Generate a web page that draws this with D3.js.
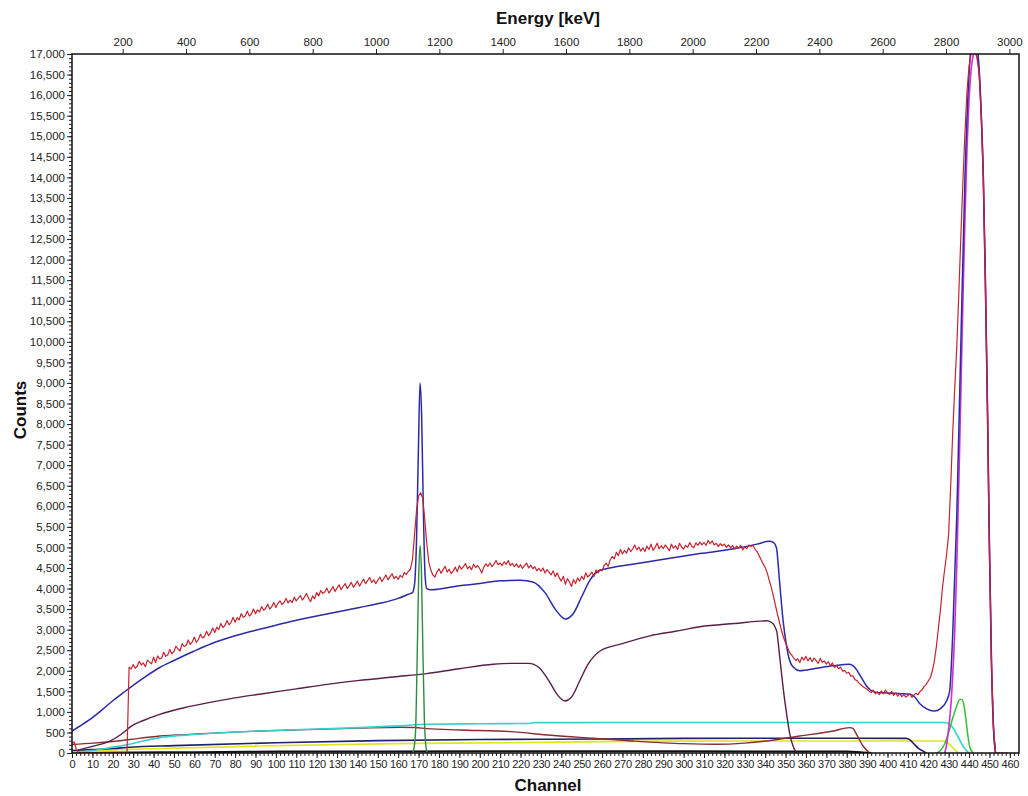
<!DOCTYPE html>
<html><head><meta charset="utf-8">
<script src="https://cdn.jsdelivr.net/npm/d3@7"></script>
<style>
body{margin:0;background:#fff;}
svg text{font-family:"Liberation Sans",Arial,sans-serif;}
</style></head><body>
<svg id="chart" width="1028" height="796"></svg>
<script>
// Gamma spectrum: measured counts per channel plus fitted components.

// Measured counts, one value per channel starting at channel 0.
const measured = [
  240, 270, 110, 20, 10, 10, 10, 10, 10, 10,
  10, 10, 10, 10, 10, 10, 10, 10, 10, 10,
  10, 10, 10, 10, 10, 10, 10, 10, 2090, 2040,
  2150, 2060, 2110, 2230, 2140, 2190, 2100, 2260, 2210, 2170,
  2330, 2200, 2360, 2290, 2310, 2450, 2350, 2390, 2520, 2410,
  2470, 2600, 2530, 2480, 2660, 2590, 2620, 2750, 2640, 2700,
  2820, 2690, 2760, 2890, 2800, 2830, 2960, 2850, 2920, 3040,
  2930, 3060, 3000, 3150, 3050, 3100, 3220, 3120, 3170, 3300,
  3180, 3290, 3240, 3390, 3300, 3330, 3450, 3330, 3380, 3500,
  3390, 3480, 3430, 3560, 3470, 3520, 3620, 3500, 3560, 3660,
  3540, 3640, 3700, 3610, 3660, 3760, 3650, 3720, 3660, 3790,
  3700, 3760, 3830, 3720, 3790, 3880, 3770, 3680, 3820, 3750,
  3900, 3820, 3950, 3880, 3920, 4010, 3890, 3960, 4050, 3930,
  4010, 4090, 3970, 4050, 4120, 4000, 4070, 4150, 4030, 4100,
  4180, 4060, 4140, 4230, 4120, 4190, 4270, 4150, 4210, 4120,
  4200, 4280, 4170, 4250, 4330, 4210, 4290, 4360, 4240, 4300,
  4220, 4320, 4270, 4390, 4340, 4420, 4470, 4700, 5300, 5900,
  6250, 6330, 6200, 5700, 5100, 4650, 4450, 4330, 4280, 4400,
  4480, 4370, 4460, 4540, 4400, 4470, 4360, 4430, 4520, 4410,
  4560, 4470, 4530, 4610, 4480, 4540, 4460, 4590, 4510, 4560,
  4480, 4380, 4520, 4600, 4540, 4620, 4530, 4600, 4680, 4580,
  4620, 4560, 4650, 4590, 4680, 4560, 4610, 4530, 4600, 4510,
  4580, 4490, 4560, 4620, 4500, 4570, 4480, 4530, 4430, 4490,
  4420, 4500, 4380, 4460, 4400, 4330, 4430, 4290, 4380, 4260,
  4180, 4300, 4100, 4240, 4160, 4050, 4220, 4120, 4260, 4180,
  4300, 4220, 4380, 4280, 4330, 4400, 4290, 4450, 4380, 4460,
  4430, 4560, 4620, 4540, 4700, 4780, 4720, 4880, 4800, 4950,
  4840, 4930, 4860, 4990, 4900, 4960, 5060, 4940, 5010, 4910,
  4990, 4900, 5030, 4950, 5080, 4930, 5000, 5100, 4960, 5040,
  4970, 5060, 4990, 4920, 5080, 4980, 5040, 4950, 5100, 5010,
  4960, 5050, 5000, 5120, 5030, 4990, 5110, 5050, 5130, 5060,
  5120, 5050, 5170, 5090, 5160, 5060, 5100, 5020, 5090, 5040,
  5080, 5000, 5060, 4990, 5050, 4960, 5030, 4980, 5050, 4940,
  5010, 4970, 5060, 5020, 5050, 4960, 4900, 4800, 4700, 4600,
  4510, 4380, 4200, 4030, 3820, 3600, 3380, 3180, 2980, 2810,
  2680, 2560, 2440, 2380, 2310, 2250, 2290, 2200, 2330, 2260,
  2350, 2240, 2320, 2220, 2310, 2250, 2180, 2300, 2200, 2240,
  2160, 2220, 2120, 2190, 2080, 2130, 2050, 2090, 1990, 2010,
  1940, 1960, 1870, 1880, 1790, 1760, 1700, 1660, 1610, 1580,
  1550, 1500, 1470, 1530, 1440, 1490, 1420, 1510, 1440, 1530,
  1470, 1420, 1500, 1400, 1460, 1380, 1450, 1370, 1420, 1360,
  1400, 1440, 1350, 1410, 1450, 1420, 1500, 1540, 1620, 1670,
  1750, 1830, 2000, 2240, 2600, 3050, 3500, 4030, 4450, 4840,
  5330, 6500, 7800, 8900, 9900, 11200, 12600, 13900, 15100, 16100,
  16700, 17000, 17050, 17050, 16900, 16500, 15500, 14000, 11500, 8500,
  5000, 2200, 600, 0, 0, 0, 0, 0, 0, 0
];

// Fitted curves as [channel, counts] pairs.
const totalFit = [
  [0,535],[5,690],[10,860],[15,1060],[20,1270],[25,1460],[29,1610],[35,1820],[43,2080],
  [50,2250],[60,2480],[68,2650],[80,2850],[92,3010],[105,3170],[117,3300],[130,3430],
  [141,3540],[151,3640],[160,3760],[165,3860],[167,3900],[168,4100],[169,5200],[170,7600],
  [170.7,9000],[171.5,8200],[172.3,6000],[173.2,4300],[174,4000],[176,3970],[190,4070],
  [200,4120],[210,4190],[220,4200],[226,4160],[232,3900],[237,3500],[242,3260],[246,3400],
  [250,3800],[254,4200],[258,4420],[262,4480],[275,4590],[291,4720],[308,4850],[324,4960],
  [336,5080],[342,5150],[344,5120],[345.5,5000],[347,4200],[348.8,3215],[350.5,2600],
  [352,2250],[354,2080],[357,2000],[365,2060],[373,2120],[381.5,2160],[384,2080],[387,1850],
  [389.7,1630],[392,1520],[394.6,1470],[400,1460],[411,1430],[413,1380],[416,1190],[419,1080],
  [423,1020],[426,1080],[429,1270],[430.5,1510],[432,2900],[434,5800],[436,10000],[438,14000],
  [440,16500],[441,17200],[442,17500],[443,17500],[444,17200],[445,16600],[446,15500],
  [447,14000],[448,11500],[449,8500],[450,5000],[451,2200],[452,600],[453,0]
];
const comptonFit = [
  [3,70],[10,160],[18.6,290],[24,450],[29.3,660],[35,790],[43,940],[55,1100],[67.7,1230],
  [80,1340],[92,1430],[110,1560],[125,1670],[140,1760],[157.6,1850],[174,1930],[190,2050],
  [206.6,2160],[215,2180],[224,2180],[229,2080],[234,1750],[238,1420],[241.8,1265],[245,1360],
  [249,1750],[253,2150],[256,2350],[259,2480],[270,2660],[283.5,2850],[296,2960],[308,3070],
  [325,3150],[340.7,3215],[343,3180],[345.6,2970],[347,2400],[348.8,1590],[350.5,950],
  [352.1,455],[353.8,150],[355.4,0]
];
const peak1Fit = [
  [165,0],[167,10],[167.5,60],[168.5,500],[169.3,2300],[170,4200],[170.7,5050],[171.4,4400],
  [172.1,2500],[172.8,900],[173.5,200],[174.2,30],[175,0]
];
const peak2Fit = [
  [428,0],[429,200],[430,600],[431,1100],[432,1900],[433,3000],[434,4600],[435,6600],
  [436,8800],[437,11000],[438,13000],[439,14700],[440,15900],[441,16600],[442,16950],
  [443,17050],[444,16900],[445,16500],[446,15500],[447,14000],[448,11500],[449,8500],
  [450,5000],[451,2200],[452,600],[453,0]
];
const escapeFit = [
  [424,0],[426,60],[428,220],[430,500],[432,850],[434,1150],[435.5,1300],[436.5,1300],
  [437.5,1150],[438.5,800],[439.5,400],[440.5,120],[442,0]
];
const cyanBg = [
  [0,0],[10,60],[18.6,130],[29.3,227],[43,373],[60,450],[92,536],[120,585],[141,617],
  [160,660],[174,698],[200,710],[215,715],[224,718],[227,738],[260,740],[428,740],
  [430,720],[432,620],[434,450],[436,260],[438,100],[440,0]
];
const brownBg = [
  [0,210],[10.5,240],[20,280],[28.4,330],[43,414],[60,460],[92,536],[120,575],[141,605],
  [160.8,625],[168,620],[174,592],[190,560],[215,520],[235,430],[255.7,358],[275,292],
  [300,227],[316,211],[330,240],[340.7,292],[357,414],[373.4,536],[381.5,617],[383,600],
  [384.8,455],[388,170],[391.3,0]
];
const navyBg = [
  [0,60],[10,85],[20,110],[28,140],[50,180],[100,250],[150,300],[200,330],[260,340],
  [300,355],[380,360],[409,355],[411,320],[413,220],[415,120],[417.5,45],[419,0]
];
const yellowBg = [
  [0,40],[15,70],[29,90],[92,170],[157.6,227],[215,251],[259,276],[300,290],[427,292],
  [430,230],[433,80],[435,0]
];
const blackBg = [
  [0,0],[28,10],[60,20],[110,35],[200,40],[300,40],[380,35],[388,15],[392,0]
];

// Axis tick values and energy calibration.
const channelTicks = d3.range(0, 461, 10);
const channelMinor = d3.range(0, 465, 2);
const countTicks = d3.range(0, 17001, 500);
const countMinor = d3.range(0, 17001, 100);
const energyTicks = d3.range(200, 3001, 200);
const energyOffset = 40;      // keV at channel 0
const keVPerChannel = 6.438;  // calibration slope

const svg = d3.select("#chart");
const margin = {left: 72, right: 9, top: 54, bottom: 43};
const W = 1028, H = 796;
const chMax = 464.5;

const x = d3.scaleLinear().domain([0, chMax]).range([margin.left, W - margin.right]);
const y = d3.scaleLinear().domain([0, 17000]).range([H - margin.bottom, margin.top]);
const xE = d3.scaleLinear()
  .domain([energyOffset, energyOffset + chMax * keVPerChannel])
  .range([margin.left, W - margin.right]);

svg.append("defs").append("clipPath").attr("id", "plotClip")
  .append("rect").attr("x", x(0)).attr("y", y(17000))
  .attr("width", x(chMax) - x(0)).attr("height", y(0) - y(17000));

const fmt = d3.format(",");
function styleAxis(size) {
  return g => {
    g.select(".domain").remove();
    g.selectAll("text").attr("font-size", size).attr("fill", "#222");
    g.selectAll("line").attr("stroke", "#222");
  };
}

// minor ticks
svg.append("g").attr("transform", `translate(0,${y(0)})`)
  .call(d3.axisBottom(x).tickValues(channelMinor).tickSize(3).tickFormat(""))
  .call(styleAxis(11));
svg.append("g").attr("transform", `translate(${x(0)},0)`)
  .call(d3.axisLeft(y).tickValues(countMinor).tickSize(3).tickFormat(""))
  .call(styleAxis(12));

// major ticks
svg.append("g").attr("transform", `translate(0,${y(0)})`)
  .call(d3.axisBottom(x).tickValues(channelTicks).tickSize(5).tickPadding(2).tickFormat(d3.format("d")))
  .call(styleAxis(11))
  .call(g => g.selectAll("text").attr("letter-spacing", -0.3));
svg.append("g").attr("transform", `translate(${x(0)},0)`)
  .call(d3.axisLeft(y).tickValues(countTicks).tickSize(5).tickPadding(2).tickFormat(fmt))
  .call(styleAxis(11.5));
svg.append("g").attr("transform", `translate(0,${y(17000)})`)
  .call(d3.axisTop(xE).tickValues(energyTicks).tickSize(5).tickPadding(3).tickFormat(d3.format("d")))
  .call(styleAxis(11.5));

// series
const line = d3.line().x(d => x(d[0])).y(d => y(d[1]));
const smooth = d3.line().x(d => x(d[0])).y(d => y(d[1])).curve(d3.curveMonotoneX);
const plot = svg.append("g").attr("clip-path", "url(#plotClip)");

const series = [
  {data: blackBg, color: "#111111", w: 2},
  {data: yellowBg, color: "#e4e41a", w: 1.6},
  {data: navyBg, color: "#20206e", w: 1.6},
  {data: brownBg, color: "#8a2c30", w: 1.4},
  {data: cyanBg, color: "#30d2d2", w: 1.6},
  {data: comptonFit, color: "#5a1e48", w: 1.4},
  {data: peak1Fit, color: "#2e8a3c", w: 1.4},
  {data: escapeFit, color: "#33c033", w: 1.5},
  {data: peak2Fit, color: "#d030d0", w: 1.6},
  {data: totalFit, color: "#2a2aa8", w: 1.5}
];
series.forEach(s => {
  plot.append("path").attr("d", smooth(s.data))
    .attr("fill", "none").attr("stroke", s.color).attr("stroke-width", s.w)
    .attr("stroke-linejoin", "round");
});
plot.append("path").attr("d", line(measured.map((v, i) => [i, v])))
  .attr("fill", "none").attr("stroke", "#c42530").attr("stroke-width", 1.2)
  .attr("stroke-linejoin", "round");

// frame
svg.append("rect").attr("x", x(0)).attr("y", y(17000))
  .attr("width", x(chMax) - x(0)).attr("height", y(0) - y(17000))
  .attr("fill", "none").attr("stroke", "#111").attr("stroke-width", 1.5);

// titles
svg.append("text").attr("x", 548).attr("y", 24).attr("text-anchor", "middle")
  .attr("font-size", 17).attr("font-weight", "bold").attr("fill", "#111").text("Energy [keV]");
svg.append("text").attr("x", 548).attr("y", 791).attr("text-anchor", "middle")
  .attr("font-size", 17).attr("font-weight", "bold").attr("fill", "#111").text("Channel");
svg.append("text").attr("transform", "translate(26,410) rotate(-90)").attr("text-anchor", "middle")
  .attr("font-size", 17).attr("font-weight", "bold").attr("fill", "#111").text("Counts");
</script></body></html>
